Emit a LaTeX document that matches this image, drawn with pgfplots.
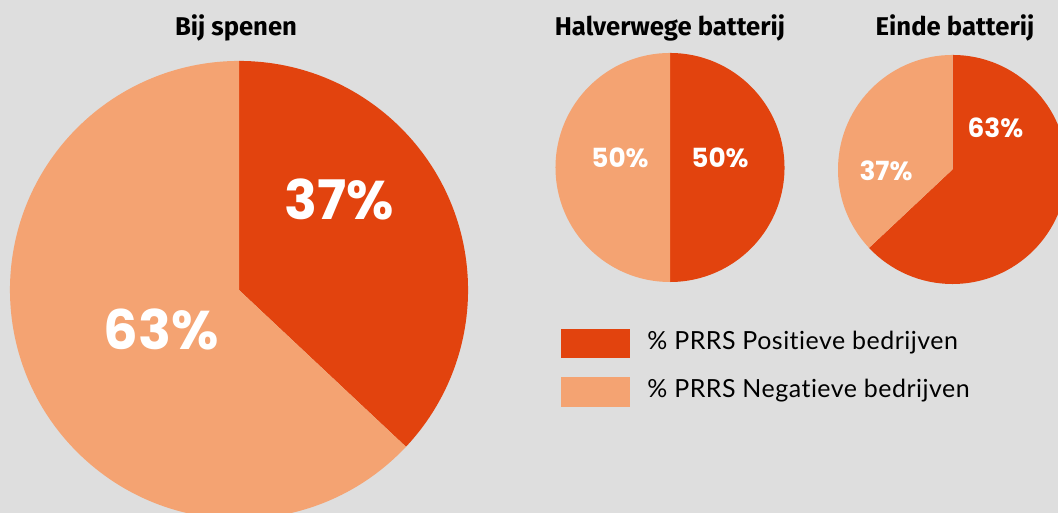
\documentclass[border=0pt]{standalone}
\usepackage{pgfplots}
\pgfplotsset{compat=1.18}
\usepackage{fontspec}
\setmainfont[Ligatures=NoCommon]{Lato}
\newfontfamily\legfont[Ligatures=NoCommon,LetterSpace=2]{Lato}
\newfontfamily\titlefont{Fira Sans}
\newfontfamily\numfont{Poppins}
\definecolor{cpos}{RGB}{226,67,14}
\definecolor{cneg}{RGB}{244,163,114}
\definecolor{cbg}{RGB}{222,222,222}
% data: % PRRS positive per stage
\def\PosA{37}\def\PosB{50}\def\PosC{63}
\newcommand\pie[4]{%
  \fill[cpos] (axis cs:#1,#2) -- ++(90:#3*0.02cm) arc[start angle=90,end angle={90-3.6*#4},radius=#3*0.02cm] -- cycle;
  \fill[cneg] (axis cs:#1,#2) -- ++({90-3.6*#4}:#3*0.02cm) arc[start angle={90-3.6*#4},end angle=-270,radius=#3*0.02cm] -- cycle;
}
\begin{document}
\begin{tikzpicture}
\useasboundingbox (0,0) rectangle (21.16cm,10.26cm);
\fill[cbg] (0,0) rectangle (21.16cm,10.26cm);
\begin{axis}[at={(0,0)},anchor=south west,scale only axis,
  width=21.16cm,height=10.26cm,xmin=0,xmax=1058,ymin=0,ymax=513,
  hide axis,clip=true]
\pie{239}{223}{229}{\PosA}
\pie{670}{345.5}{114.5}{\PosB}
\pie{952.5}{343.5}{114.5}{\PosC}
% labels
\node[anchor=base,text=white,font=\numfont\bfseries\fontsize{31}{31}\selectfont] at (axis cs:339.5,293) {37\%};
\node[anchor=base,text=white,font=\numfont\bfseries\fontsize{31}{31}\selectfont] at (axis cs:161,163) {63\%};
\node[anchor=base,text=white,font=\numfont\bfseries\fontsize{15}{15}\selectfont] at (axis cs:620,345) {50\%};
\node[anchor=base,text=white,font=\numfont\bfseries\fontsize{15}{15}\selectfont] at (axis cs:720,345) {50\%};
\node[anchor=base,text=white,font=\numfont\bfseries\fontsize{15}{15}\selectfont] at (axis cs:995.5,375) {63\%};
\node[anchor=base,text=white,font=\numfont\bfseries\fontsize{15}{15}\selectfont] at (axis cs:886,332) {37\%};
% titles
\node[anchor=base,font=\titlefont\bfseries\fontsize{14.6}{14.6}\selectfont] at (axis cs:236,477) {Bij spenen};
\node[anchor=base,font=\titlefont\bfseries\fontsize{14.6}{14.6}\selectfont] at (axis cs:670,477) {Halverwege batterij};
\node[anchor=base,font=\titlefont\bfseries\fontsize{14.6}{14.6}\selectfont] at (axis cs:955,477) {Einde batterij};
% legend
\fill[cpos] (axis cs:561,155) rectangle (axis cs:630,184);
\fill[cneg] (axis cs:561,106) rectangle (axis cs:630,136);
\node[anchor=base west,inner sep=0pt,font=\legfont\fontsize{14.2}{14.2}\selectfont] at (axis cs:647,163) {\% PRRS Positieve bedrijven};
\node[anchor=base west,inner sep=0pt,font=\legfont\fontsize{14.2}{14.2}\selectfont] at (axis cs:647,115) {\% PRRS Negatieve bedrijven};
\end{axis}
\end{tikzpicture}
\end{document}
